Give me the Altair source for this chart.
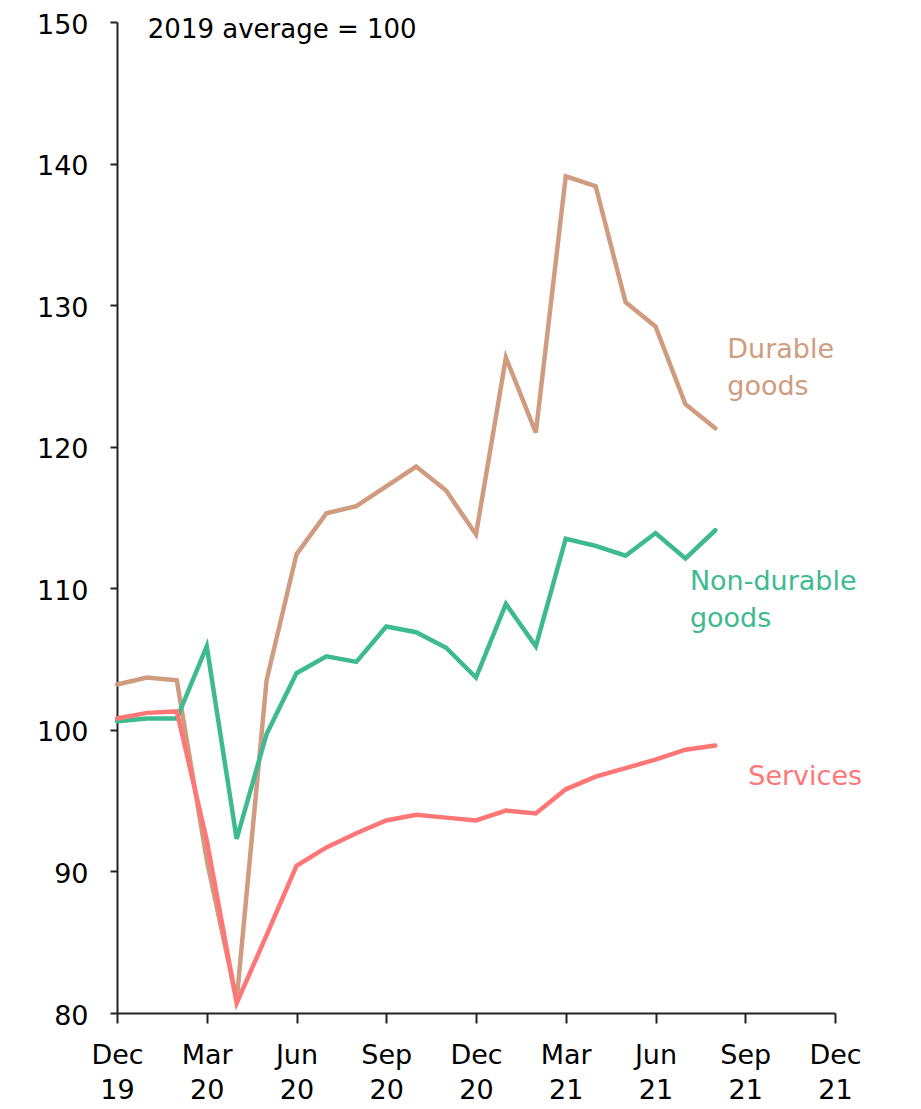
import altair as alt
import pandas as pd

months = ["2019-12", "2020-01", "2020-02", "2020-03", "2020-04", "2020-05", "2020-06",
          "2020-07", "2020-08", "2020-09", "2020-10", "2020-11", "2020-12", "2021-01",
          "2021-02", "2021-03", "2021-04", "2021-05", "2021-06", "2021-07", "2021-08"]

durable = [103.2, 103.7, 103.5, 90.8, 80.9, 103.5, 112.4, 115.3, 115.8, 117.2, 118.6,
           116.9, 113.8, 126.3, 121.0, 139.1, 138.4, 130.2, 128.5, 123.0, 121.3]
non_durable = [100.6, 100.8, 100.8, 105.9, 92.3, 99.7, 104.0, 105.2, 104.8, 107.3, 106.9,
               105.8, 103.7, 108.9, 105.9, 113.5, 113.0, 112.3, 113.9, 112.1, 114.1]
services = [100.8, 101.2, 101.3, 92.2, 80.7, 85.5, 90.4, 91.7, 92.7, 93.6, 94.0,
            93.8, 93.6, 94.3, 94.1, 95.8, 96.7, 97.3, 97.9, 98.6, 98.9]

series_names = ["Durable goods", "Non-durable goods", "Services"]
series_colors = ["#CF9C80", "#3EBA91", "#FF7677"]

tick_labels = ["Dec 19", "Mar 20", "Jun 20", "Sep 20", "Dec 20", "Mar 21", "Jun 21", "Sep 21", "Dec 21"]
tick_values = [0, 3, 6, 9, 12, 15, 18, 21, 24]

label_texts = [["Durable", "goods"], ["Non-durable", "goods"], ["Services"]]
label_x = [20.4, 19.15, 21.1]
label_y = [126.85, 110.45, 96.7]

FONT = "DejaVu Sans"

rows = []
for name, vals in zip(series_names, [durable, non_durable, services]):
    for i, (m, v) in enumerate(zip(months, vals)):
        rows.append({"month": m, "idx": i, "value": v, "series": name})
df = pd.DataFrame(rows)

color_scale = alt.Scale(domain=series_names, range=series_colors)
xs = alt.Scale(domain=[0, 24], nice=False)
ys = alt.Scale(domain=[80, 150], nice=False)

label_expr = "split(" + str(tick_labels).replace('"', "'") + "[round(datum.value/3)], ' ')"

lines = alt.Chart(df).mark_line(strokeWidth=4.5, strokeCap="round").encode(
    x=alt.X("idx:Q", scale=xs, title=None,
            axis=alt.Axis(values=tick_values, labelExpr=label_expr, tickSize=10,
                          labelPadding=19, labelFontSize=27, labelLineHeight=35,
                          labelFont=FONT, labelColor="#000", domainColor="#222",
                          tickColor="#222", domainWidth=2, tickWidth=2, grid=False,
                          labelBaseline="top", labelAlign="center", labelFlush=False,
                          labelOverlap=False)),
    y=alt.Y("value:Q", scale=ys, title=None,
            axis=alt.Axis(values=[80, 90, 100, 110, 120, 130, 140, 150], tickSize=7,
                          labelPadding=22, labelFontSize=27, labelFont=FONT,
                          labelColor="#000", domainColor="#222", tickColor="#222",
                          domainWidth=2, tickWidth=2, grid=False, labelFlush=False,
                          labelOverlap=False, labelOffset=3)),
    color=alt.Color("series:N", scale=color_scale, legend=None),
    order=alt.Order("idx:Q"),
    detail="series:N",
)

lab_df = pd.DataFrame({"series": series_names, "text": label_texts, "x": label_x, "y": label_y})
labels = alt.Chart(lab_df).mark_text(align="left", baseline="middle", fontSize=27,
                                     font=FONT, lineHeight=37).encode(
    x=alt.X("x:Q", scale=xs),
    y=alt.Y("y:Q", scale=ys),
    text="text",
    color=alt.Color("series:N", scale=color_scale, legend=None),
)

note_df = pd.DataFrame({"text": ["2019 average = 100"], "x": [1.03], "y": [149.45]})
note = alt.Chart(note_df).mark_text(align="left", baseline="middle", fontSize=26,
                                    font=FONT, color="#000").encode(
    x=alt.X("x:Q", scale=xs), y=alt.Y("y:Q", scale=ys), text="text")

chart = (lines + labels + note).properties(
    width=718, height=991,
    autosize=alt.AutoSizeParams(type="none"),
    padding={"left": 109, "top": 14, "right": 70, "bottom": 90},
).configure(background="white").configure_view(strokeWidth=0, stroke="transparent")

chart.save("out.html", embed_options={"renderer": "svg", "actions": False})
